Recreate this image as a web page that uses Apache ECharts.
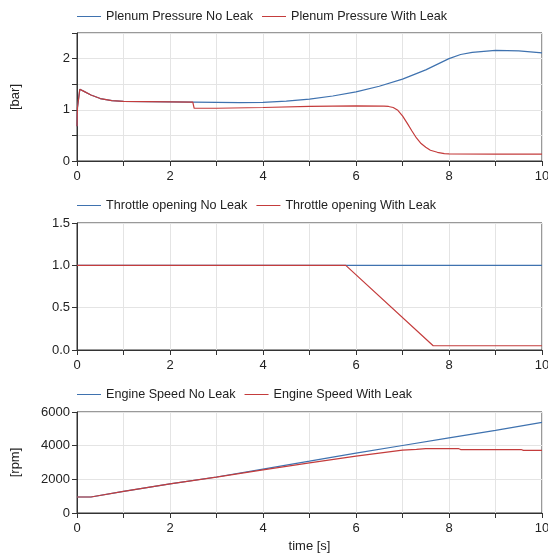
<!DOCTYPE html>
<html>
<head>
<meta charset="utf-8">
<script src="https://cdn.jsdelivr.net/npm/echarts@6/dist/echarts.min.js"></script>
<style>
  html, body { margin: 0; padding: 0; background: #fff; }
  #chart { width: 548px; height: 555px; }
</style>
</head>
<body>
<div id="chart"></div>
<script>
// ---- Data (time [s], value) ----
const plenumNoLeak = [
  [0,0.68],[0.01,1.04],[0.06,1.40],[0.15,1.36],[0.3,1.29],[0.5,1.22],[0.75,1.18],
  [1,1.165],[1.5,1.16],[2,1.155],[2.5,1.15],[3,1.145],[3.5,1.14],[4,1.145],
  [4.5,1.17],[5,1.21],[5.5,1.27],[6,1.35],[6.5,1.46],[7,1.6],[7.5,1.78],
  [8,2.0],[8.25,2.08],[8.5,2.12],[9,2.16],[9.5,2.15],[10,2.11]
];
const plenumWithLeak = [
  [0,0.68],[0.01,1.04],[0.06,1.40],[0.15,1.36],[0.3,1.29],[0.5,1.22],[0.75,1.18],
  [1,1.165],[1.5,1.16],[2,1.155],[2.49,1.15],[2.52,1.03],[3,1.03],[4,1.045],
  [5,1.065],[6,1.075],[6.6,1.07],[6.7,1.065],[6.8,1.045],[6.9,0.99],[7.0,0.88],
  [7.1,0.74],[7.2,0.59],[7.3,0.45],[7.4,0.34],[7.5,0.27],[7.6,0.21],[7.75,0.17],
  [7.9,0.145],[8,0.14],[9,0.135],[10,0.135]
];
const throttleNoLeak = [[0,1],[10,1]];
const throttleWithLeak = [[0,1],[5.78,1],[7.66,0.05],[10,0.05]];
const speedNoLeak = [
  [0,950],[0.3,950],[1,1280],[2,1730],[3,2140],[4,2610],[5,3080],[6,3560],
  [7,4010],[8,4460],[9,4910],[10,5380]
];
const speedWithLeak = [
  [0,950],[0.3,950],[1,1280],[2,1730],[3,2130],[4,2560],[5,2980],[6,3380],
  [7,3730],[7.3,3780],[7.5,3830],[8.2,3830],[8.25,3770],[9.55,3770],[9.6,3720],[10,3720]
];
const names = [
  ['Plenum Pressure No Leak','Plenum Pressure With Leak'],
  ['Throttle opening No Leak','Throttle opening With Leak'],
  ['Engine Speed No Leak','Engine Speed With Leak']
];

const BLUE = '#3f72af', RED = '#c43c3c';
const FONT = 'Liberation Sans, Arial, sans-serif';
const txt = { color: '#222', fontFamily: FONT, fontSize: 13 };
const legTxt = { color: '#222', fontFamily: FONT, fontSize: 12.6 };

const grids = [
  { left: 77, right: 6, top: 33, height: 128 },
  { left: 77, right: 6, top: 223, height: 127 },
  { left: 77, right: 6, top: 412, height: 101 }
].map(g => Object.assign(g, {
  show: true, borderColor: '#333', borderWidth: 1,
  containLabel: false, outerBoundsMode: 'none'
}));

function xAxis(i, withName) {
  return {
    type: 'value', gridIndex: i, min: 0, max: 10, interval: 1,
    axisLine: { show: true, onZero: false, lineStyle: { color: '#333' } },
    axisTick: { show: true, length: 5, lineStyle: { color: '#333' } },
    axisLabel: Object.assign({ margin: 9, formatter: v => (v % 2 === 0 ? String(v) : '') }, txt),
    splitLine: { show: true, lineStyle: { color: '#e4e4e4' } },
    name: withName ? 'time [s]' : '', nameLocation: 'middle', nameGap: 27,
    nameTextStyle: txt
  };
}
function yAxis(i, min, max, interval, fmt, name) {
  return {
    type: 'value', gridIndex: i, min: min, max: max, interval: interval,
    axisLine: { show: true, onZero: false, lineStyle: { color: '#333' } },
    axisTick: { show: true, length: 5, lineStyle: { color: '#333' } },
    axisLabel: Object.assign({ margin: 7, formatter: fmt }, txt),
    splitLine: { show: true, lineStyle: { color: '#e4e4e4' } },
    name: name || '', nameLocation: 'middle', nameGap: 55, nameTextStyle: txt
  };
}

function legend(i, top) {
  return {
    data: names[i], left: 72, top: top, itemWidth: 24, itemHeight: 10, itemGap: 9,
    icon: 'path://M0,4.5 L24,4.5 L24,5.5 L0,5.5 Z',
    textStyle: legTxt, padding: [0, 5], selectedMode: false
  };
}

function line(name, data, color, i) {
  return {
    type: 'line', name: name, data: data, xAxisIndex: i, yAxisIndex: i,
    showSymbol: false, symbol: 'none', animation: false,
    lineStyle: { color: color, width: 1.2 }, itemStyle: { color: color }
  };
}

const option = {
  backgroundColor: '#fff',
  animation: false,
  grid: grids,
  legend: [legend(0, 10), legend(1, 199), legend(2, 388)],
  xAxis: [xAxis(0, false), xAxis(1, false), xAxis(2, true)],
  yAxis: [
    yAxis(0, 0, 2.5, 0.5, v => (Math.abs(v - Math.round(v)) < 1e-9 ? String(Math.round(v)) : ''), '[bar]'),
    yAxis(1, 0, 1.5, 0.5, v => v.toFixed(1), ''),
    yAxis(2, 0, 6000, 2000, v => String(v), '[rpm]')
  ],
  series: [
    line(names[0][0], plenumNoLeak, BLUE, 0),
    line(names[0][1], plenumWithLeak, RED, 0),
    line(names[1][0], throttleNoLeak, BLUE, 1),
    line(names[1][1], throttleWithLeak, RED, 1),
    line(names[2][0], speedNoLeak, BLUE, 2),
    line(names[2][1], speedWithLeak, RED, 2)
  ]
};

const chart = echarts.init(document.getElementById('chart'), null, { renderer: 'canvas' });
chart.setOption(option);
</script>
</body>
</html>
